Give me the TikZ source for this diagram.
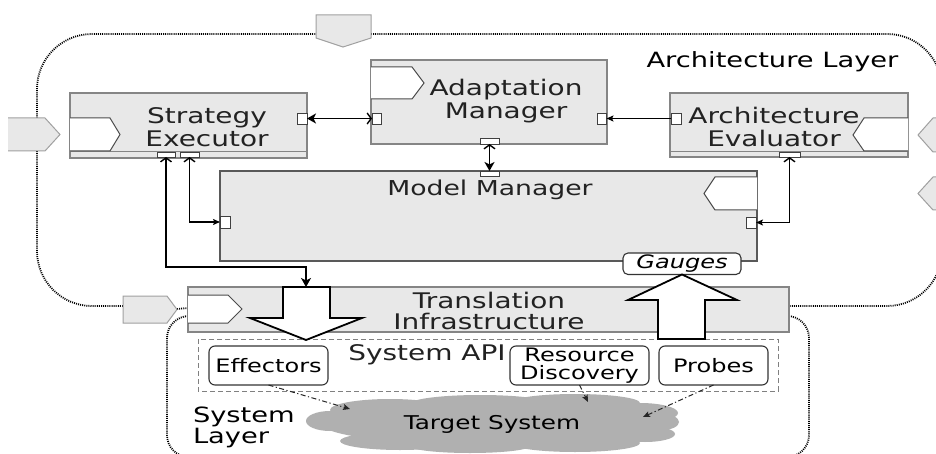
\documentclass[tikz,border=0pt]{standalone}
\usepackage{fontspec}
\setmainfont{DejaVu Sans}[FakeStretch=1.3]
\usetikzlibrary{arrows.meta,shapes.geometric}
\definecolor{boxfill}{HTML}{E8E8E8}
\definecolor{boxline}{HTML}{858585}
\definecolor{txt}{HTML}{222222}
\definecolor{extline}{HTML}{A0A0A0}
\definecolor{cloudgray}{HTML}{B0B0B0}
\tikzset{
  upb/.tip={Straight Barb[length=4pt,width=11pt]},
  stl/.tip={Stealth[length=9pt,width=10pt,inset=2.5pt]},
  sml/.tip={Stealth[length=7pt,width=6pt,inset=1.5pt]},
}
\begin{document}
\begin{tikzpicture}[x=1pt,y=-1pt,
  every node/.style={inner sep=0pt, outer sep=0pt},
  box/.style={draw=boxline, fill=boxfill, line width=1.2pt, anchor=north west, rectangle},
  innerpent/.style={draw=black!70, fill=white, line width=1pt},
  extport/.style={draw=extline, fill=boxfill, line width=1pt},
  port/.style={draw=black!75, fill=white, line width=0.9pt, rectangle},
  lbl/.style={text=txt, font=\fontsize{21.5}{23}\selectfont, align=center},
  sub/.style={draw=black!80, fill=white, rounded corners=6pt, line width=1.1pt, anchor=north west, rectangle},
  slbl/.style={font=\fontsize{18.5}{18}\selectfont, align=center, text=black},
  conn/.style={line width=1.4pt, draw=black},
  layerline/.style={draw=black, line width=1.8pt, dash pattern=on 1pt off 1.1pt},
  dd/.style={draw=black!85, line width=1pt, dash pattern=on 5pt off 2.5pt on 1.2pt off 2.5pt, -{sml}},
  bigarrow/.style={draw=black, fill=white, line width=1.8pt, line join=miter},
  band/.style={draw=boxline, line width=1pt},
]
\useasboundingbox (0,0) rectangle (936,454);
\fill[white] (0,0) rectangle (936,454);

% ---- layer boundaries ----
\draw[layerline, rounded corners=55pt] (123,306) -- (37,306) -- (37,34) -- (942,34) -- (942,306) -- (789,306);
\draw[layerline, rounded corners=22pt] (188,316) -- (167,316) -- (167,457) -- (809,457) -- (809,316) -- (789,316);
\draw[layerline] (177,309) -- (188,308);

% ---- external ports of the architecture layer ----
\filldraw[extport] (316,15) -- (371,15) -- (371,38) -- (343,47) -- (316,38) -- cycle;
\fill[boxfill] (8,118) -- (45,118) -- (60,134.5) -- (45,151) -- (8,151) -- cycle;
\draw[extline, line width=1pt] (8,118) -- (45,118) -- (60,134.5) -- (45,151) -- (8,151);
\filldraw[extport] (950,118) -- (933,118) -- (918,135) -- (933,152) -- (950,152);
\filldraw[extport] (950,177) -- (933,177) -- (918,193.5) -- (933,210) -- (950,210);
\filldraw[extport] (123,296) -- (167,296) -- (177,309.5) -- (167,323) -- (123,323) -- cycle;

% ---- components ----
\node[box, minimum width=237, minimum height=65] (se) at (70,93) {};
\node[box, minimum width=236, minimum height=84] (am) at (371,60) {};
\node[box, minimum width=238, minimum height=64] (ae) at (670,93) {};
\node[box, draw=black!65, minimum width=537, minimum height=90] (mm) at (220,171) {};
\node[box, minimum width=601, minimum height=45] (ti) at (188,287) {};

\draw[band] (70,152) -- (307,152);
\draw[band] (670,152) -- (908,152);

% inner port pentagons
\filldraw[innerpent] (70,118) -- (110,118) -- (120,134.5) -- (110,151) -- (70,151);
\filldraw[innerpent] (371,67) -- (412,67) -- (424,83) -- (412,99) -- (371,99);
\filldraw[innerpent] (908,118) -- (864,118) -- (853,135) -- (864,151) -- (908,151);
\filldraw[innerpent] (757,177) -- (715,177) -- (704,193.5) -- (715,210) -- (757,210);
\filldraw[innerpent] (188,295) -- (228,295) -- (242,309) -- (228,323) -- (188,323);

% small ports
\node[port, minimum width=10, minimum height=11] (seR) at (302,118.5) {};
\node[port, minimum width=18, minimum height=5] (seB1) at (166,154.5) {};
\node[port, minimum width=19, minimum height=5] (seB2) at (189.5,154.5) {};
\node[port, minimum width=9, minimum height=11] (amL) at (376.5,118.5) {};
\node[port, minimum width=9, minimum height=11] (amR) at (602,118.5) {};
\node[port, minimum width=19, minimum height=6] (amB) at (489.5,141) {};
\node[port, minimum width=10, minimum height=11] (aeL) at (676,118.5) {};
\node[port, minimum width=21, minimum height=5] (aeB) at (789.5,154.5) {};
\node[port, minimum width=19, minimum height=5] (mmT) at (489.5,173.5) {};
\node[port, minimum width=10, minimum height=12] (mmL) at (225,222) {};
\node[port, minimum width=10, minimum height=11] (mmR) at (751,222.5) {};

% ---- labels ----
\node[lbl] (seText) at (207,127) {Strategy\\Executor};
\node[lbl] (amText) at (506,101) {Adaptation\\Manager};
\node[lbl] (aeText) at (774,126.5) {Architecture\\Evaluator};
\node[lbl, font=\fontsize{20.5}{22}\selectfont] (mmText) at (490,190) {Model Manager};
\node[lbl, font=\fontsize{21.5}{21}\selectfont] (tiText) at (489,311) {Translation\\Infrastructure};
\node[font=\fontsize{21}{23}\selectfont, text=black] (archText) at (772.5,62) {Architecture Layer};
\node[font=\fontsize{21}{21}\selectfont, text=black, align=left, anchor=west] (sysText) at (193,427) {System\\Layer};

% ---- connectors ----
\draw[conn, {stl}-{upb}] (seR.east) -- (amL.west);
\draw[conn, -{sml}] (aeL.west) -- (amR.east);
\draw[conn, {upb}-{stl}] (amB.south) -- (mmT.north);
\draw[conn, {upb}-{sml}] (seB2.south) |- (mmL.west);
\draw[conn, {upb}-{sml}] (aeB.south) |- (mmR.east);

% ---- big arrows ----
\coordinate (dnTop) at (306,287);
\coordinate (upTip) at (682,274.5);
\draw[conn, {upb}-{stl}] (seB1.south) -- ++(0,110) -| (dnTop);

% ---- system API ----
\draw[draw=black!50, line width=1pt, dash pattern=on 5pt off 3pt] (198,339) rectangle (778,391);
\node[lbl] (apiText) at (427,355) {System API};
\node[sub, minimum width=119, minimum height=39] (eff) at (209,346) {};
\node[slbl] (effText) at (eff.center) {Effectors};
\node[sub, minimum width=139, minimum height=39] (rd) at (510,346) {};
\node[slbl] (rdText) at (rd.center) {Resource\\Discovery};
\node[sub, minimum width=109, minimum height=39] (pr) at (659,346) {};
\node[slbl] (prText) at (pr.center) {Probes};

\filldraw[bigarrow] (283,287) -- (330,287) -- (330,318) -- (362,318) -- (306,340) -- (250,318) -- (283,318) -- cycle;

\node[sub, rounded corners=5pt, minimum width=118, minimum height=21.5] (gauges) at (623,253) {};
\node[font=\fontsize{18.5}{20}\selectfont\itshape, text=black] (gaugesText) at (gauges.center) {Gauges};
\filldraw[bigarrow] (658,339) -- (705,339) -- (705,300) -- (737,300) -- (upTip) -- (628,300) -- (658,300) -- cycle;

% ---- target system (cloud) ----
\fill[cloudgray] (330,421) ellipse [x radius=24, y radius=10];
\fill[cloudgray] (390,410) ellipse [x radius=60, y radius=11];
\fill[cloudgray] (480,404) ellipse [x radius=70, y radius=9];
\fill[cloudgray] (575,403) ellipse [x radius=65, y radius=9];
\fill[cloudgray] (640,413) ellipse [x radius=38, y radius=10];
\fill[cloudgray] (662,422) ellipse [x radius=17, y radius=8];
\fill[cloudgray] (400,441) ellipse [x radius=60, y radius=9];
\fill[cloudgray] (470,446) ellipse [x radius=60, y radius=7];
\fill[cloudgray] (575,443) ellipse [x radius=65, y radius=9];
\fill[cloudgray] (645,434) ellipse [x radius=30, y radius=8];
\node[ellipse, fill=cloudgray, draw=none, minimum width=340, minimum height=42, font=\fontsize{19}{21}\selectfont, text=black] (target) at (492,424) {Target System};
\coordinate (tE) at (350,409);
\coordinate (tR) at (588,402);
\coordinate (tP) at (643,417);
\draw[dd] (eff.south) -- (tE);
\draw[dd] (rd.south) -- (tR);
\draw[dd] (pr.south) -- (tP);
\end{tikzpicture}
\end{document}
